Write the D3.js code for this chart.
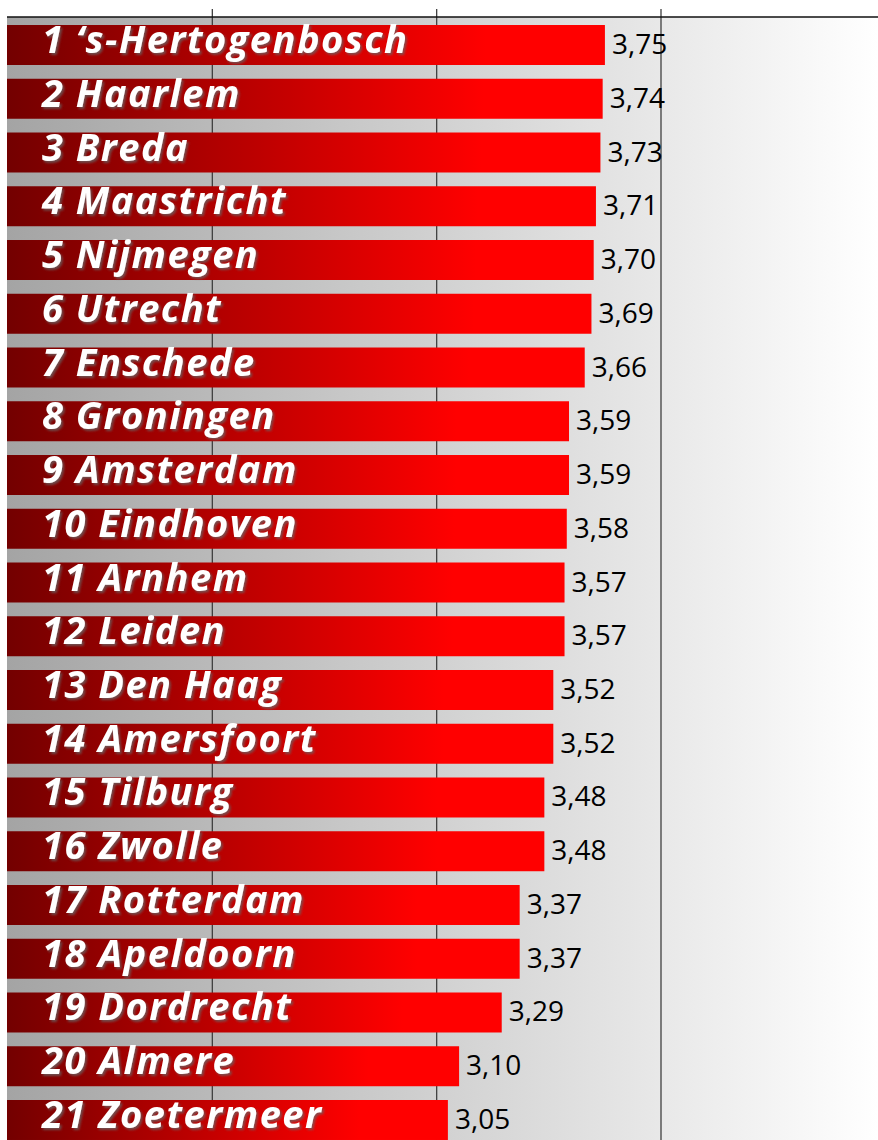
<!DOCTYPE html>
<html lang="en">
<head>
    <meta charset="UTF-8">
    <title>Steden ranking</title>
    <script src="https://d3js.org/d3.v7.min.js"></script>
    <style>
        body { margin: 0; background: #fff; }
        svg { display: block; }
    </style>
</head>
<body>
  <div id="chart"></div>
  <script>
    // data
    const cities = ["1 \u2018s-Hertogenbosch", "2 Haarlem", "3 Breda", "4 Maastricht", "5 Nijmegen",
        "6 Utrecht", "7 Enschede", "8 Groningen", "9 Amsterdam", "10 Eindhoven", "11 Arnhem",
        "12 Leiden", "13 Den Haag", "14 Amersfoort", "15 Tilburg", "16 Zwolle", "17 Rotterdam",
        "18 Apeldoorn", "19 Dordrecht", "20 Almere", "21 Zoetermeer"];
    const scores = [3.75, 3.74, 3.73, 3.71, 3.70, 3.69, 3.66, 3.59, 3.59, 3.58, 3.57,
        3.57, 3.52, 3.52, 3.48, 3.48, 3.37, 3.37, 3.29, 3.10, 3.05];
    const gridTicks = [2, 3, 4];

    const data = cities.map(function(c, i) { return {city: c, score: scores[i]}; });

    const W = 878, H = 1140;
    const plotLeft = 7, plotTop = 17;

    const svg = d3.select("#chart").append("svg")
        .attr("width", W)
        .attr("height", H);

    const defs = svg.append("defs");

    // background gradient of the plot area
    const bg = defs.append("linearGradient").attr("id", "bgGrad");
    bg.append("stop").attr("offset", "0%").attr("stop-color", "#a4a4a4");
    bg.append("stop").attr("offset", "100%").attr("stop-color", "#ffffff");

    // bar gradient, per bar
    const bar = defs.append("linearGradient").attr("id", "barGrad");
    bar.append("stop").attr("offset", "0%").attr("stop-color", "#730000");
    bar.append("stop").attr("offset", "80%").attr("stop-color", "#ff0000");
    bar.append("stop").attr("offset", "100%").attr("stop-color", "#ff0000");

    const shadow = defs.append("filter").attr("id", "shadow")
        .attr("x", "-10%").attr("y", "-30%").attr("width", "120%").attr("height", "160%");
    shadow.append("feDropShadow")
        .attr("dx", 1.8).attr("dy", 2).attr("stdDeviation", 1.3)
        .attr("flood-color", "#666").attr("flood-opacity", 0.75);

    const x = d3.scaleLinear().domain([1, 4]).range([-12, 661]);
    const y = d3.scaleBand()
        .domain(cities)
        .range([plotTop, 1148])
        .paddingInner(0.256)
        .paddingOuter(0.149);

    svg.append("rect")
        .attr("x", plotLeft).attr("y", plotTop)
        .attr("width", W - plotLeft).attr("height", H - plotTop)
        .attr("fill", "url(#bgGrad)");

    // gridlines (stick up a bit above the top line)
    svg.selectAll(".grid")
        .data(gridTicks)
        .enter().append("line")
        .attr("class", "grid")
        .attr("x1", function(d) { return x(d); })
        .attr("x2", function(d) { return x(d); })
        .attr("y1", plotTop - 8)
        .attr("y2", H)
        .attr("stroke", "#404040")
        .attr("stroke-width", 1.3);

    svg.append("line")
        .attr("x1", plotLeft).attr("x2", W)
        .attr("y1", plotTop).attr("y2", plotTop)
        .attr("stroke", "#111")
        .attr("stroke-width", 1.5);

    svg.selectAll(".bar")
        .data(data)
        .enter().append("rect")
        .attr("class", "bar")
        .attr("x", plotLeft)
        .attr("y", function(d) { return y(d.city); })
        .attr("width", function(d) { return x(d.score) - plotLeft; })
        .attr("height", y.bandwidth())
        .attr("fill", "url(#barGrad)");

    svg.selectAll(".name")
        .data(data)
        .enter().append("text")
        .attr("class", "name")
        .attr("x", 42)
        .attr("y", function(d) { return y(d.city) + y.bandwidth() / 2 + 8; })
        .attr("fill", "#fff")
        .attr("filter", "url(#shadow)")
        .style("font-family", "'Open Sans', sans-serif")
        .style("font-weight", "bold")
        .style("font-style", "italic")
        .style("font-size", "38px")
        .style("letter-spacing", "1.5px")
        .text(function(d) { return d.city; });

    svg.selectAll(".val")
        .data(data)
        .enter().append("text")
        .attr("class", "val")
        .attr("x", function(d) { return x(d.score) + 7; })
        .attr("y", function(d) { return y(d.city) + y.bandwidth() / 2 + 9; })
        .attr("fill", "#000")
        .style("font-family", "'Open Sans', sans-serif")
        .style("font-size", "28px")
        .text(function(d) { return d.score.toFixed(2).replace(".", ","); });
  </script>
</body>
</html>
